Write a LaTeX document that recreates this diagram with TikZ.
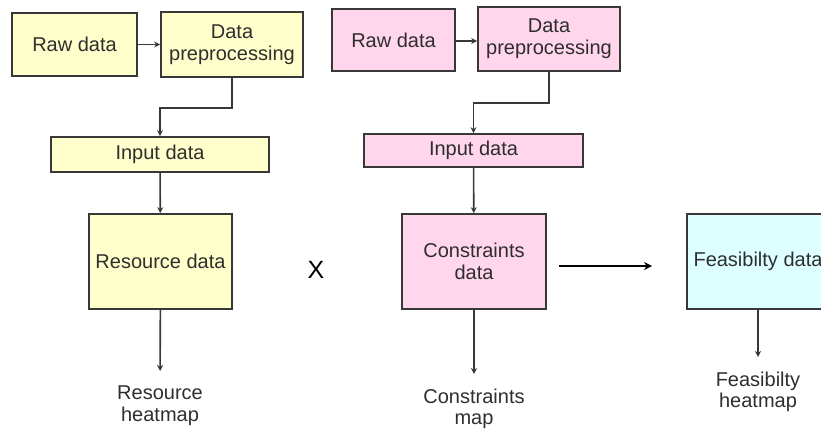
\documentclass[tikz,border=0pt]{standalone}
\usepackage{fontspec}
\setmainfont{Liberation Sans}
\usetikzlibrary{arrows.meta}
\definecolor{boxline}{HTML}{383838}
\definecolor{txt}{HTML}{2E2E2E}
\definecolor{yellowfill}{HTML}{FFFFCC}
\definecolor{pinkfill}{HTML}{FFD6EB}
\definecolor{cyanfill}{HTML}{DDFFFF}
\tikzset{
  x=1pt, y=-1pt,
  box/.style={draw=boxline, line width=1.7pt, text=txt, inner sep=0pt,
    font=\fontsize{20}{22}\selectfont, align=center},
  ybox/.style={box, fill=yellowfill},
  pbox/.style={box, fill=pinkfill},
  cbox/.style={box, fill=cyanfill},
  outlabel/.style={anchor=north, inner sep=0pt, outer sep=0pt, text=txt,
    font=\fontsize{20}{21.5}\selectfont, align=center},
  link/.style={draw=boxline, line width=1.6pt,
    -{Stealth[length=6pt,width=6pt]}},
  outlink/.style={link, shorten >=15pt},
}
\begin{document}
\begin{tikzpicture}
\useasboundingbox (0,0) rectangle (821,430);
\begin{scope}
\clip (0,0) rectangle (821,430);

% left chain: resources
\node[ybox, minimum width=125pt, minimum height=63pt] (rawL) at (74.5,44.5) {Raw data};
\node[ybox, minimum width=142pt, minimum height=65pt] (preL) at (232,44.5) {Data\\preprocessing};
\node[ybox, minimum width=218pt, minimum height=35pt] (inL) at (160,154.5) {Input data};
\node[ybox, minimum width=143pt, minimum height=95pt] (res) at (160.5,261.5) {Resource data};
\node[outlabel] (resmap) at (160,386) {Resource\\heatmap};

% middle chain: constraints
\node[pbox, minimum width=123pt, minimum height=62pt] (rawR) at (393.5,40) {Raw data};
\node[pbox, minimum width=142pt, minimum height=64pt] (preR) at (549,39) {Data\\preprocessing};
\node[pbox, minimum width=219pt, minimum height=33pt] (inR) at (473.5,150.5) {Input data};
\node[pbox, minimum width=144pt, minimum height=95pt] (con) at (474,261.5) {Constraints\\data};
\node[outlabel] (conmap) at (474,389) {Constraints\\map};

% combination sign
\node[text=black, font=\fontsize{25}{25}\selectfont, inner sep=0pt] (times) at (316,270) {X};

% result
\node[cbox, minimum width=142pt, minimum height=95pt] (feas) at (758,261.5) {Feasibilty data};
\node[outlabel] (feasmap) at (758,372) {Feasibilty\\heatmap};

% connectors
\draw[link] (rawL) -- (preL);
\draw[link] (preL.south) -- ++(0,30) -| (inL.north);
\draw[link] (inL) -- (res);
\draw[outlink] (res) -- (resmap);

\draw[link] (rawR.east |- 0,41) -- (preR.west |- 0,41);
\draw[link] (preR.south) -- ++(0,31) -| (inR.north);
\draw[link] (inR) -- (con);
\draw[outlink] (con) -- (conmap);

\coordinate (combA) at (559,266);
\coordinate (combB) at (652,266);
\draw[line width=2.6pt, -{Stealth[length=8pt,width=8pt]}] (combA) -- (combB);

\draw[outlink] (feas) -- (feasmap);
\end{scope}
\end{tikzpicture}
\end{document}
